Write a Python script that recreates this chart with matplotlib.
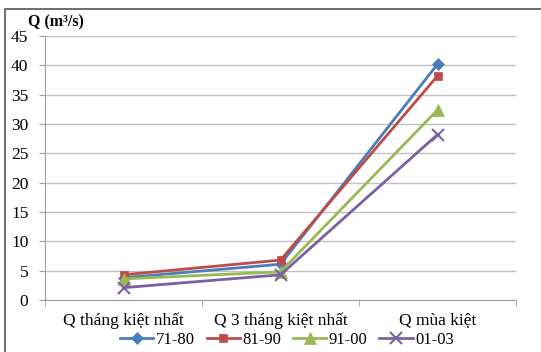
import matplotlib.pyplot as plt
from matplotlib.patches import Rectangle

categories = ['Q tháng kiệt nhất', 'Q 3 tháng kiệt nhất', 'Q mùa kiệt']
series_names = ['71-80', '81-90', '91-00', '01-03']
s7180 = [3.8, 6.1, 40.2]
s8190 = [4.3, 6.8, 38.2]
s9100 = [3.6, 4.8, 32.4]
s0103 = [2.1, 4.3, 28.2]

colors = ['#4A7EBB', '#BE4B48', '#98B954', '#7D60A0']
markers = ['D', 's', '^', 'x']
msizes = [6, 6, 8, 9]

plt.rcParams['font.family'] = ['Liberation Serif', 'DejaVu Serif']

W, H = 541, 352
fig = plt.figure(figsize=(W / 100, H / 100), dpi=100)
# outer frame (only left/top visible in the crop)
fig.patches.append(Rectangle((5 / W, -0.1), 1.2, (H - 9) / H + 0.1,
                             transform=fig.transFigure, fill=False,
                             edgecolor='#555555', linewidth=1.2))

ax = fig.add_axes([45 / W, 1 - 300 / H, (516 - 45) / W, (300 - 36) / H])
x = [0, 1, 2]
for vals, name, c, m, ms in zip([s7180, s8190, s9100, s0103], series_names, colors, markers, msizes):
    ax.plot(x, vals, color=c, marker=m, markersize=ms, linewidth=2,
            markeredgewidth=1.5 if m == 'x' else 0.5, label=name)

ax.set_xlim(-0.5, 2.5)
ax.set_ylim(0, 45)
ax.set_yticks(range(0, 46, 5))
ax.set_xticks(x)
ax.set_xticklabels(categories)
ax.set_xticks([-0.5, 0.5, 1.5, 2.5], minor=True)
ax.tick_params(axis='x', which='major', length=0, pad=9, labelsize=12.5)
ax.tick_params(axis='x', which='minor', length=4, color='#a0a0a0')
ax.tick_params(axis='y', length=4, color='#a0a0a0', labelsize=12.5, pad=8)
ax.yaxis.grid(True, color='#c0c0c0', linewidth=1)
ax.set_axisbelow(True)
for s in ['top', 'right']:
    ax.spines[s].set_visible(False)
ax.spines['left'].set_color('#a0a0a0')
ax.spines['bottom'].set_color('#a0a0a0')

fig.text(28 / W, 1 - 22 / H, 'Q (m³/s)', fontsize=11.5, fontweight='bold', va='center')

fig.legend(loc='center', bbox_to_anchor=(287 / W, 1 - 340 / H), ncol=4, frameon=False,
           fontsize=12, handlelength=2.0, columnspacing=0.7, handletextpad=0.15,
           borderaxespad=0)

fig.savefig('out.png', dpi=100)
